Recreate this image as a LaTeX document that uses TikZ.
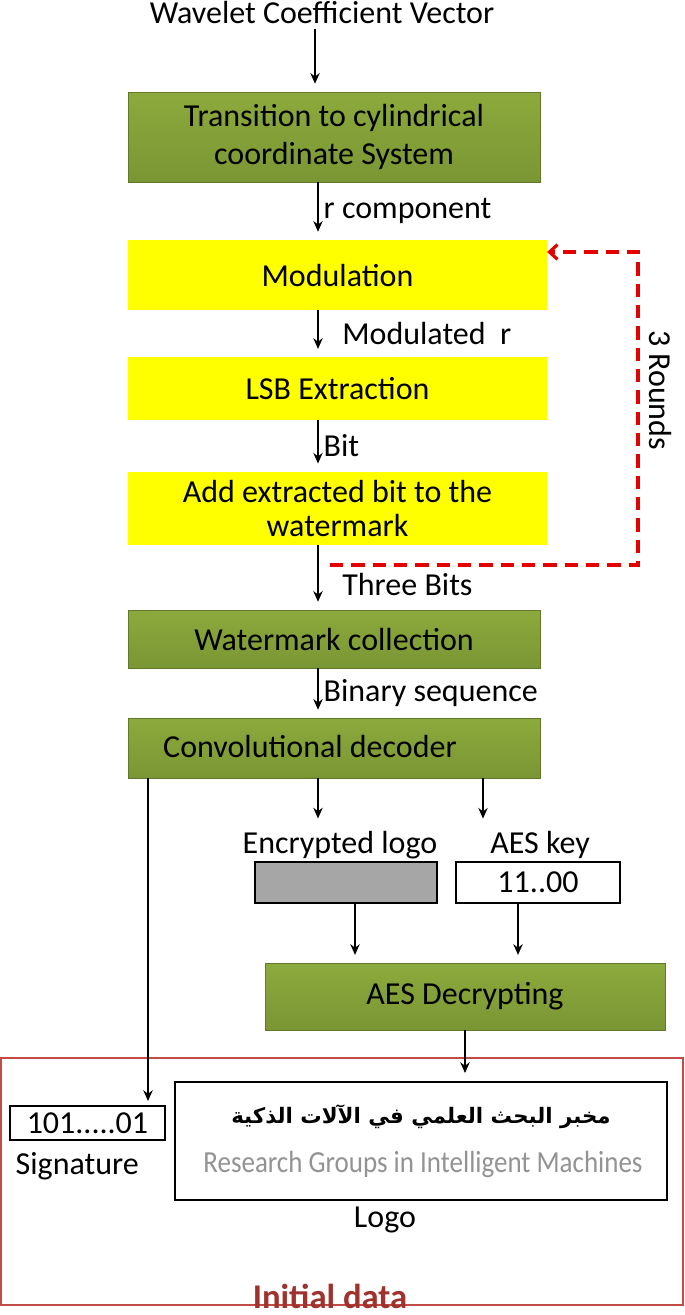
\documentclass[tikz,border=0pt]{standalone}
\usepackage{fontspec}
\setmainfont{Carlito}
\newfontfamily\arabfont[Script=Arabic]{DejaVu Sans}
\usetikzlibrary{arrows.meta,calc,shadows}
\definecolor{grn}{RGB}{122,150,52}
\definecolor{grnl}{RGB}{140,170,60}
\definecolor{ylw}{RGB}{255,255,0}
\definecolor{frame}{RGB}{195,75,70}
\definecolor{idata}{RGB}{160,50,45}
\newcommand\bigtext{\fontsize{24}{28}\selectfont}
\begin{document}
\TeXXeTstate=1
\begin{tikzpicture}[x=0.75pt,y=-0.75pt,every node/.style={font=\bigtext},
  green/.style={draw=grn!80!black,top color=grnl,bottom color=grn,drop shadow={opacity=0.25,shadow xshift=1pt,shadow yshift=-1pt},align=center,inner sep=0pt},
  yellow/.style={fill=ylw,align=center,inner sep=0pt,minimum width=314pt},
  wbox/.style={draw,line width=1.5pt,fill=white,inner sep=0pt},
  arr/.style={-{Stealth[length=8pt,width=7pt]},line width=1.8pt,shorten >=6pt},
  lbl/.style={anchor=west}]
\useasboundingbox (0,0) rectangle (685,1315);

\node (in) at (322,13) {Wavelet Coefficient Vector};
\node[green,minimum width=309pt,minimum height=67.5pt] (trans) at (334,137) {Transition to cylindrical\\coordinate System};
\node[yellow,minimum height=52.5pt] (mod) at (337.5,275) {Modulation};
\node[yellow,minimum height=47pt] (lsb) at (337.5,388.5) {LSB Extraction};
\node[yellow,minimum height=55pt] (add) at (337.5,508.5) {Add extracted bit to the\\[-3pt]watermark};
\node[green,minimum width=309pt,minimum height=43.5pt] (wm) at (334,639) {Watermark collection};
\node[green,minimum width=309pt,minimum height=45pt] (conv) at (334,748) {\phantom{x}};
\node (convt) at (310,746) {Convolutional decoder};
\node (enct) at (340,845) {Encrypted logo};
\node (keyt) at (540,845) {AES key};
\node[wbox,fill=gray!70,minimum width=136.5pt,minimum height=31pt] (enc) at (346,882.5) {};
\node[wbox,minimum width=123pt,minimum height=31pt] (key) at (538,882.5) {11..00};
\node[green,minimum width=300pt,minimum height=50pt] (aes) at (465,996.5) {AES Decrypting};
\draw[frame,line width=1.5pt] (1,1058) rectangle (683,1305);
\node[wbox,minimum width=369pt,minimum height=88.5pt] (logo) at (421,1141) {};
\node (ar) at (421,1117) {\arabfont\bfseries\fontsize{16}{19}\selectfont\beginR مخبر البحث العلمي في الآلات الذكية\endR};
\node[text=gray!85] (en) at (423,1164) {\fontsize{23}{26}\selectfont\scalebox{0.88}[1]{Research Groups in Intelligent Machines}};
\node[wbox,minimum width=116pt,minimum height=25.5pt] (sig) at (87.5,1123) {101.....01};
\node[anchor=west] (sigt) at (11,1166) {Signature};
\node (logot) at (385,1220) {Logo};
\node[text=idata,font=\fontsize{26}{30}\selectfont\bfseries] (init) at (330,1296) {Initial data};

\coordinate (c1) at (318,0);
\draw[arr] (in.south -| 315,0) -- (trans.north -| 315,0);
\draw[arr] (trans.south -| c1) -- node[lbl]{r component} (mod.north -| c1);
\draw[arr] (mod.south -| c1) -- node[lbl,xshift=14pt]{Modulated\ \ r} (lsb.north -| c1);
\draw[arr] (lsb.south -| c1) -- node[lbl]{Bit} (add.north -| c1);
\draw[arr] (add.south -| c1) -- node[lbl,xshift=14pt,yshift=-5pt]{Three Bits} (wm.north -| c1);
\draw[arr] (wm.south -| c1) -- node[lbl]{Binary sequence} (conv.north -| c1);
\draw[arr] (conv.south -| c1) -- (enct.north -| c1);
\draw[arr] (conv.south -| 483,0) -- (keyt.north -| 483,0);
\draw[arr] (enc.south -| 355,0) -- (aes.north -| 355,0);
\draw[arr] (key.south -| 518,0) -- (aes.north -| 518,0);
\draw[arr] (aes.south) -- (logo.north -| aes.south);
\draw[arr,shorten >=3pt] (conv.south -| 148,0) -- (sig.north -| 148,0);

\coordinate (r0) at (330,565);
\coordinate (r1) at (638,565);
\coordinate (r2) at (638,252);
\draw[red!90!black,line width=2.4pt,dash pattern=on 10pt off 6pt,-{Straight Barb[length=6pt,width=11pt]}]
  (r0) -- (r1) -- (r2) -- (mod.east |- r2);
\node[rotate=-90] (rounds) at (660,390) {3 Rounds};
\end{tikzpicture}
\end{document}
